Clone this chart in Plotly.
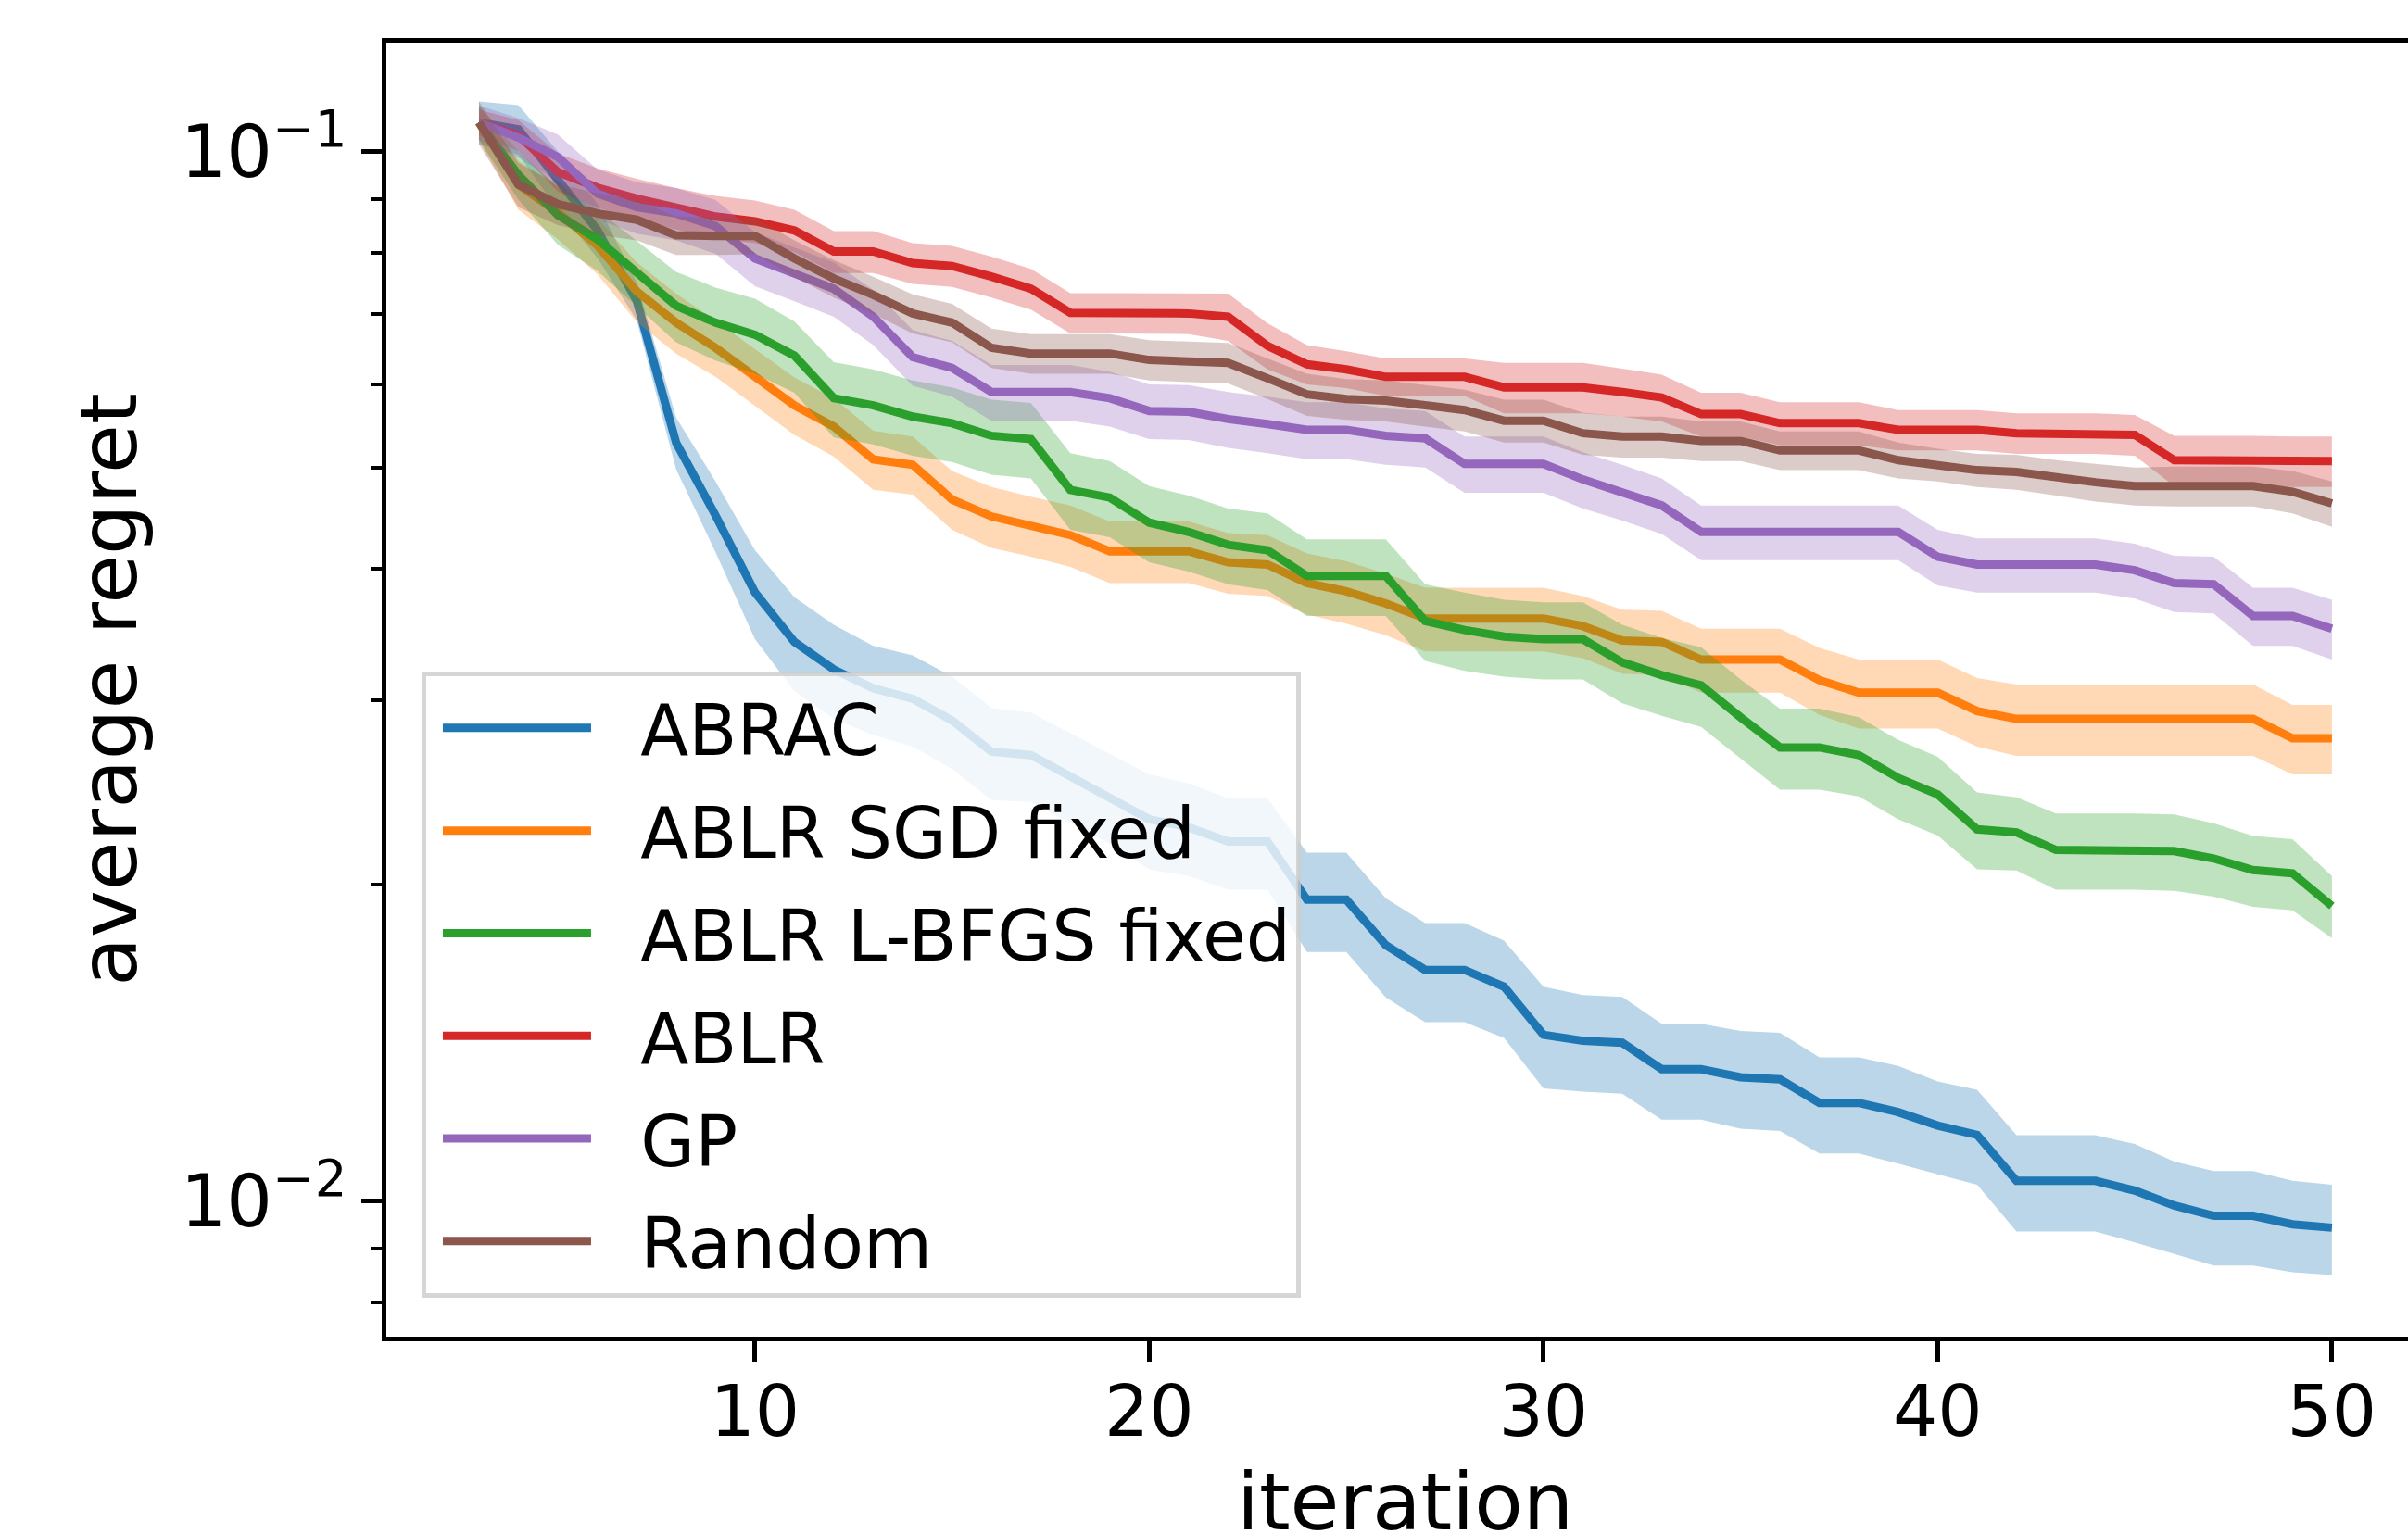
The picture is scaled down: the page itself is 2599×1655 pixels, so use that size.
import plotly.graph_objects as go

iterations = [3, 4, 5, 6, 7, 8, 9, 10, 11, 12, 13, 14, 15, 16, 17, 18, 19, 20, 21, 22, 23, 24, 25, 26,
              27, 28, 29, 30, 31, 32, 33, 34, 35, 36, 37, 38, 39, 40, 41, 42, 43, 44, 45, 46, 47, 48, 49, 50]

names = ["ABRAC", "ABLR SGD fixed", "ABLR L-BFGS fixed", "ABLR", "GP", "Random"]

abrac_mean = [0.1066, 0.105, 0.094, 0.0842, 0.0721, 0.0528, 0.045, 0.038, 0.0341, 0.0321, 0.0308, 0.0301,
              0.0287, 0.0268, 0.0266, 0.0254, 0.0243, 0.0231, 0.0227, 0.0220, 0.0220, 0.01937, 0.01937, 0.01753,
              0.0166, 0.0166, 0.0160, 0.0144, 0.01421, 0.01415, 0.01335, 0.01335, 0.01312, 0.01306, 0.0124, 0.0124,
              0.01215, 0.0118, 0.01156, 0.01045, 0.01045, 0.01045, 0.01023, 0.0099, 0.00968, 0.00968, 0.0095, 0.00943]
abrac_std = [0.005, 0.0057, 0.006, 0.005, 0.003, 0.003, 0.0035, 0.0037, 0.0035, 0.0033, 0.003, 0.003,
             0.0029, 0.0027, 0.0026, 0.0025, 0.0024, 0.0024, 0.0023, 0.0022, 0.0022, 0.0021, 0.0021, 0.0019,
             0.0018, 0.0018, 0.0017, 0.0016, 0.0015, 0.0015, 0.0014, 0.0014, 0.0014, 0.0014, 0.0013, 0.0013,
             0.0013, 0.0012, 0.0012, 0.0011, 0.0011, 0.0011, 0.0011, 0.0010, 0.0010, 0.0010, 0.00095, 0.00093]

sgd_mean = [0.1066, 0.093, 0.0875, 0.0814, 0.0736, 0.0687, 0.065, 0.061, 0.0573, 0.0547, 0.0509, 0.0503,
            0.0466, 0.0449, 0.0440, 0.0431, 0.0416, 0.0416, 0.0416, 0.0406, 0.0404, 0.0388, 0.0381, 0.0371,
            0.0359, 0.0359, 0.0359, 0.0359, 0.0353, 0.0342, 0.0341, 0.0328, 0.0328, 0.0328, 0.03135, 0.0305,
            0.0305, 0.0305, 0.0293, 0.0288, 0.0288, 0.0288, 0.0288, 0.0288, 0.0288, 0.0288, 0.0276, 0.0276]
sgd_std = [0.004, 0.005, 0.005, 0.005, 0.0048, 0.0045, 0.004, 0.0038, 0.0036, 0.0035, 0.0033, 0.0032,
           0.003, 0.003, 0.0029, 0.0029, 0.0028, 0.0028, 0.0028, 0.0027, 0.0027, 0.0026, 0.0026, 0.0025,
           0.0025, 0.0025, 0.0025, 0.0025, 0.0024, 0.0024, 0.0024, 0.0023, 0.0023, 0.0023, 0.0023, 0.0023,
           0.0023, 0.0023, 0.0022, 0.00225, 0.00225, 0.00225, 0.00225, 0.00225, 0.00225, 0.00225, 0.0021, 0.0021]

lbfgs_mean = [0.1066, 0.095, 0.087, 0.0825, 0.0767, 0.0713, 0.0687, 0.0669, 0.0639, 0.0582, 0.0573, 0.0559,
              0.0551, 0.0536, 0.0532, 0.0476, 0.0468, 0.0443, 0.0434, 0.0422, 0.0417, 0.0394, 0.0394, 0.0394,
              0.0357, 0.0350, 0.0345, 0.0343, 0.0343, 0.0326, 0.0317, 0.0310, 0.0289, 0.02705, 0.02705, 0.0266,
              0.0253, 0.0244, 0.0226, 0.02245, 0.0216, 0.0216, 0.0216, 0.02155, 0.0212, 0.02067, 0.02052, 0.0191]
lbfgs_std = [0.004, 0.005, 0.0055, 0.0055, 0.0055, 0.0055, 0.0055, 0.0055, 0.005, 0.0048, 0.0047, 0.0046,
             0.0045, 0.0044, 0.0044, 0.0040, 0.0039, 0.0037, 0.0036, 0.0035, 0.0035, 0.0033, 0.0033, 0.0033,
             0.003, 0.003, 0.0029, 0.0029, 0.0029, 0.0028, 0.0027, 0.0027, 0.0025, 0.0024, 0.0024, 0.0023,
             0.0022, 0.0021, 0.0019, 0.0018, 0.0018, 0.0018, 0.0018, 0.0018, 0.0017, 0.0016, 0.0016, 0.0013]

ablr_mean = [0.1066, 0.1036, 0.0956, 0.0924, 0.0902, 0.0883, 0.0867, 0.0858, 0.0841, 0.0803, 0.0803, 0.0783,
             0.0778, 0.0760, 0.0740, 0.0702, 0.0702, 0.0702, 0.0701, 0.0696, 0.0653, 0.0627, 0.0620, 0.0610,
             0.0610, 0.0610, 0.0596, 0.0596, 0.0596, 0.0590, 0.0583, 0.0562, 0.0562, 0.0551, 0.0551, 0.0551,
             0.0543, 0.0543, 0.0543, 0.0539, 0.0539, 0.0539, 0.0537, 0.0508, 0.0508, 0.0508, 0.0507, 0.0507]
ablr_std = [0.003, 0.0035, 0.004, 0.004, 0.004, 0.004, 0.004, 0.004, 0.0039, 0.0037, 0.0037, 0.0035,
            0.0035, 0.0034, 0.0033, 0.0031, 0.0031, 0.0031, 0.0031, 0.0036, 0.0033, 0.0027, 0.0025, 0.0025,
            0.0025, 0.0025, 0.0033, 0.0033, 0.0033, 0.0031, 0.003, 0.0027, 0.0027, 0.0026, 0.0026, 0.0026,
            0.0024, 0.0024, 0.0024, 0.0024, 0.0024, 0.0024, 0.0024, 0.0028, 0.0028, 0.0028, 0.0028, 0.0028]

gp_mean = [0.1066, 0.1031, 0.0988, 0.0912, 0.0885, 0.0873, 0.0849, 0.0791, 0.0765, 0.0740, 0.0696, 0.0637,
           0.0622, 0.0590, 0.0590, 0.0590, 0.0582, 0.0566, 0.0565, 0.0556, 0.0550, 0.0543, 0.0543, 0.0536,
           0.0533, 0.0504, 0.0504, 0.0504, 0.0487, 0.0474, 0.0460, 0.0434, 0.0434, 0.0434, 0.0434, 0.0434,
           0.0434, 0.0411, 0.0404, 0.0404, 0.0404, 0.0404, 0.0399, 0.0388, 0.0387, 0.0361, 0.0361, 0.0351]
gp_std = [0.004, 0.0045, 0.005, 0.005, 0.005, 0.005, 0.005, 0.0047, 0.0045, 0.0044, 0.0042, 0.0039,
          0.0038, 0.0036, 0.0036, 0.0036, 0.0035, 0.0034, 0.0034, 0.0034, 0.0034, 0.0034, 0.0034, 0.0033,
          0.0033, 0.0031, 0.0031, 0.0031, 0.003, 0.0029, 0.0028, 0.0026, 0.0026, 0.0026, 0.0026, 0.0026,
          0.0026, 0.0025, 0.0024, 0.0024, 0.0024, 0.0024, 0.0024, 0.0024, 0.0024, 0.0023, 0.0023, 0.0023]

random_mean = [0.1066, 0.093, 0.0891, 0.0873, 0.0861, 0.0832, 0.0831, 0.0831, 0.0791, 0.0757, 0.0730, 0.0701,
               0.0687, 0.0650, 0.0642, 0.0642, 0.0642, 0.0633, 0.0631, 0.0629, 0.0608, 0.0587, 0.0581, 0.0579,
               0.0573, 0.0567, 0.0554, 0.0554, 0.0539, 0.0535, 0.0535, 0.0530, 0.0530, 0.0519, 0.0519, 0.0519,
               0.0508, 0.0503, 0.0497, 0.0495, 0.0489, 0.0484, 0.0480, 0.0480, 0.0480, 0.0480, 0.0474, 0.0462]
random_std = [0.005, 0.0045, 0.004, 0.004, 0.0038, 0.0035, 0.0034, 0.0033, 0.0032, 0.0031, 0.003, 0.003,
              0.0029, 0.0028, 0.0028, 0.0028, 0.0028, 0.0028, 0.0028, 0.0028, 0.0027, 0.0027, 0.0026, 0.0026,
              0.0026, 0.0026, 0.0026, 0.0026, 0.0025, 0.0024, 0.0024, 0.0023, 0.0023, 0.0022, 0.0022, 0.0022,
              0.002, 0.0018, 0.0018, 0.0019, 0.0019, 0.002, 0.002, 0.0021, 0.0021, 0.0021, 0.0022, 0.0023]

colors = ["#1f77b4", "#ff7f0e", "#2ca02c", "#d62728", "#9467bd", "#8c564b"]
fill_colors = ["rgba(31,119,180,0.3)", "rgba(255,127,14,0.3)", "rgba(44,160,44,0.3)",
               "rgba(214,39,40,0.3)", "rgba(148,103,189,0.3)", "rgba(140,86,75,0.3)"]

means = [abrac_mean, sgd_mean, lbfgs_mean, ablr_mean, gp_mean, random_mean]
stds = [abrac_std, sgd_std, lbfgs_std, ablr_std, gp_std, random_std]

y_major = [0.01, 0.1]
y_major_text = ["10<sup>\u22122</sup>", "10<sup>\u22121</sup>"]
y_minor = [0.008, 0.009, 0.02, 0.03, 0.04, 0.05, 0.06, 0.07, 0.08, 0.09]
x_ticks = [10, 20, 30, 40, 50]
x_title = "iteration"
y_title = "average regret"

FONT = "DejaVu Sans"
GAP = "\u00a0\u00a0"  # spacing between legend line and label, as in the reference

fig = go.Figure()
for name, m, s, c, fc in zip(names, means, stds, colors, fill_colors):
    upper = [a + b for a, b in zip(m, s)]
    lower = [a - b for a, b in zip(m, s)]
    fig.add_trace(go.Scatter(x=iterations, y=m, mode="lines", name=GAP + name, legendgroup=name,
                             line=dict(color=c, width=9)))
    fig.add_trace(go.Scatter(x=iterations, y=upper, mode="lines", line=dict(width=0, color=c),
                             showlegend=False, legendgroup=name, hoverinfo="skip"))
    fig.add_trace(go.Scatter(x=iterations, y=lower, mode="lines", line=dict(width=0, color=c),
                             fill="tonexty", fillcolor=fc, showlegend=False, legendgroup=name,
                             hoverinfo="skip"))

fig.update_layout(
    width=2599, height=1655,
    margin=dict(l=417, r=0, t=46, b=212, pad=0, autoexpand=False),
    paper_bgcolor="white", plot_bgcolor="white",
    font=dict(family=FONT, color="black", size=76),
    showlegend=True,
    legend=dict(
        x=0.0174, y=0.514, xanchor="left", yanchor="top",
        bgcolor="rgba(255,255,255,0.8)", bordercolor="rgba(204,204,204,0.8)", borderwidth=5,
        font=dict(family=FONT, size=76, color="black"),
        itemwidth=160, tracegroupgap=9, traceorder="grouped", indentation=13,
    ),
    xaxis=dict(
        range=[0.65, 51.93], showgrid=False, zeroline=False, automargin=False,
        showline=True, linecolor="black", linewidth=5, mirror=True,
        ticks="outside", tickvals=x_ticks, ticklen=22, tickwidth=5, tickcolor="black",
        tickfont=dict(family=FONT, size=76, color="black"), ticklabelstandoff=-11,
    ),
    yaxis=dict(
        type="log", range=[-2.1293, -0.8962], showgrid=False, zeroline=False, automargin=False,
        showline=True, linecolor="black", linewidth=5, mirror=False,
        ticks="outside", tickvals=y_major, ticktext=y_major_text, ticklen=22, tickwidth=5,
        tickcolor="black",
        tickfont=dict(family=FONT, size=78, color="black"),
        minor=dict(ticks="outside", tickvals=y_minor, ticklen=12.5, tickwidth=3.75,
                   tickcolor="black", showgrid=False),
        title=dict(text=y_title, font=dict(family=FONT, size=86, color="black"), standoff=20),
    ),
    annotations=[dict(
        text=x_title, xref="paper", yref="paper", x=0.504, y=-0.1646,
        xanchor="center", yanchor="bottom", showarrow=False,
        font=dict(family=FONT, size=86, color="black"),
    )],
)

fig.write_html("out.html")
